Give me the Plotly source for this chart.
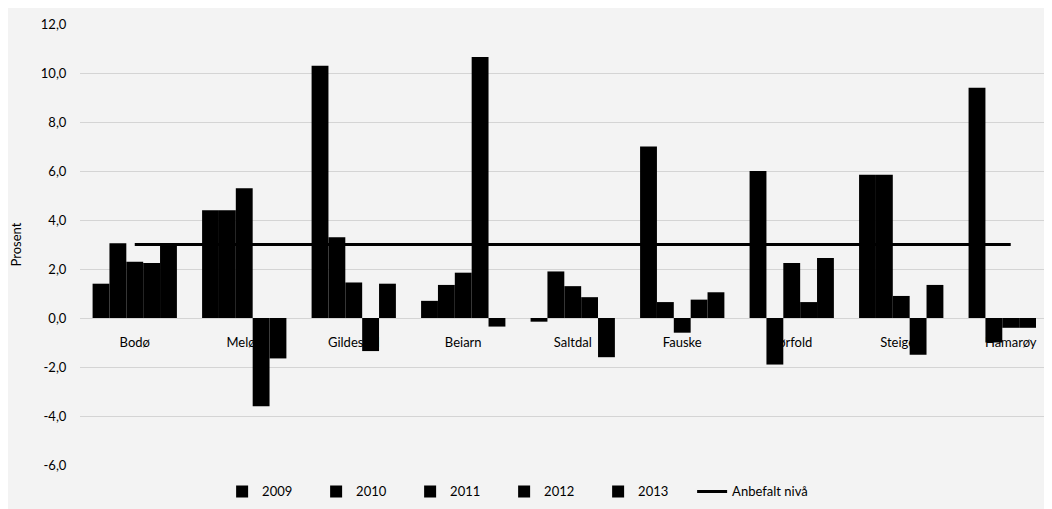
import plotly.graph_objects as go

kommuner = ["Bodø", "Meløy", "Gildeskål", "Beiarn", "Saltdal", "Fauske", "Sørfold", "Steigen", "Hamarøy"]
aar = ["2009", "2010", "2011", "2012", "2013"]
v2009 = [1.4, 4.4, 10.3, 0.7, -0.15, 7.0, 6.0, 5.85, 9.4]
v2010 = [3.05, 4.4, 3.3, 1.35, 1.9, 0.65, -1.9, 5.85, -1.0]
v2011 = [2.3, 5.3, 1.45, 1.85, 1.3, -0.6, 2.25, 0.9, -0.4]
v2012 = [2.25, -3.6, -1.35, 10.65, 0.85, 0.75, 0.65, -1.5, -0.4]
v2013 = [2.95, -1.65, 1.4, -0.35, -1.6, 1.05, 2.45, 1.35, None]
anbefalt = [3.0, 3.0, 3.0, 3.0, 3.0, 3.0, 3.0, 3.0, 3.0]
y_ticks = [12, 10, 8, 6, 4, 2, 0, -2, -4, -6]
y_labels = ["12,0", "10,0", "8,0", "6,0", "4,0", "2,0", "0,0", "-2,0", "-4,0", "-6,0"]

serier = [v2009, v2010, v2011, v2012, v2013]

fig = go.Figure()
for navn, vals in zip(aar, serier):
    fig.add_trace(go.Bar(x=kommuner, y=vals, name=navn,
                         marker=dict(color="#000000", line=dict(width=0))))
fig.add_trace(go.Scatter(x=kommuner, y=anbefalt, name="Anbefalt nivå", mode="lines",
                         line=dict(color="#000000", width=3), legendwidth=120))

fig.update_layout(
    width=1052, height=509,
    margin=dict(l=72, r=0, t=16, b=52),
    paper_bgcolor="#f3f3f3", plot_bgcolor="#f3f3f3",
    font=dict(family="Lato, Open Sans, sans-serif", size=13, color="#000000"),
    barmode="group", bargap=0.23, bargroupgap=0,
    showlegend=True,
    legend=dict(orientation="h", x=0.469, xanchor="center", y=-0.06, yanchor="middle",
                bgcolor="rgba(0,0,0,0)", entrywidth=49, entrywidthmode="pixels",
                font=dict(size=13)),
    xaxis=dict(type="category", range=[-0.5, 8.45], anchor="free", position=6/18,
               showgrid=False, showline=False, zeroline=False,
               ticks="outside", ticklen=12, tickcolor="rgba(0,0,0,0)",
               layer="below traces"),
    yaxis=dict(range=[-6, 12], tickvals=y_ticks, ticktext=y_labels,
               showgrid=True, gridcolor="#d4d4d4", gridwidth=1,
               zeroline=False, showline=False,
               ticks="outside", ticklen=10, tickcolor="rgba(0,0,0,0)",
               title=dict(text="Prosent", standoff=16, font=dict(size=13))),
)

fig.write_html("out.html")
